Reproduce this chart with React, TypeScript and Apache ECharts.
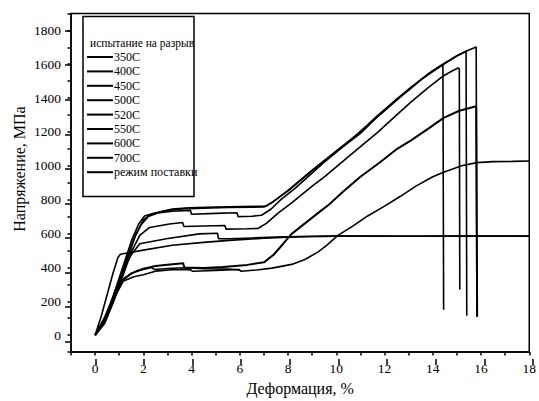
import React, { useEffect, useRef } from "react";
import * as echarts from "echarts";

const FONT = "Liberation Serif, DejaVu Serif, serif";

const legendTitle = "испытание на разрыв";
const seriesNames = ["350C", "400C", "450C", "500C", "520C", "550C", "600C", "700C", "режим поставки"];
const xAxisName = "Деформация, %";
const yAxisName = "Напряжение, МПа";

const s350: [number, number][] = [
  [0, 0], [0.3, 55], [0.6, 165], [0.9, 295], [1.2, 425], [1.5, 555], [1.8, 655], [2.05, 704], [2.4, 718],
  [3.2, 745], [3.9, 752], [5, 757], [6, 760], [7.1, 762], [7.4, 790], [8, 855], [9, 975], [10, 1088],
  [11, 1200], [11.7, 1295], [12.54, 1398], [13.1, 1465], [14, 1562], [14.45, 1603], [15, 1650],
  [15.4, 1678], [15.8, 1702], [15.83, 108],
];
const s400: [number, number][] = [
  [0, 0], [0.35, 70], [0.7, 200], [1.0, 320], [1.3, 450], [1.6, 565], [1.9, 650], [2.2, 700], [2.6, 722],
  [3.2, 732], [3.95, 737], [4.0, 714], [5, 719], [5.88, 723], [5.93, 700], [6.5, 702], [6.9, 708],
  [7.3, 745], [7.7, 800], [8.3, 868], [9.5, 1022], [10.5, 1140], [11.7, 1292], [12.54, 1395],
  [13.5, 1508], [14.45, 1600], [15, 1648], [15.38, 1676], [15.41, 114],
];
const s450: [number, number][] = [
  [0, 0], [0.4, 75], [0.8, 220], [1.1, 345], [1.4, 475], [1.7, 600], [2.0, 680], [2.3, 712], [2.9, 735],
  [3.6, 746], [4.5, 750], [5.5, 754], [6.5, 756], [7.0, 757], [7.35, 785], [8, 852], [9, 972],
  [10, 1082], [11, 1192], [11.7, 1288], [12.54, 1392], [13.1, 1458], [13.8, 1542], [14.42, 1597],
  [14.45, 150],
];
const s500: [number, number][] = [
  [0, 0], [0.4, 70], [0.8, 210], [1.2, 370], [1.5, 490], [1.85, 589], [2.26, 636], [3.08, 656],
  [3.63, 665], [3.68, 642], [4.5, 645], [5.38, 648], [5.43, 626], [6.3, 628], [6.75, 630], [7.1, 660],
  [7.6, 722], [8.15, 781], [9.0, 880], [9.52, 936], [10.48, 1051], [11.7, 1196], [12.54, 1305],
  [13.08, 1375], [13.8, 1460], [14.45, 1532], [14.8, 1560], [15.05, 1578], [15.1, 1572], [15.12, 270],
];
const s520: [number, number][] = [
  [0, 0], [0.4, 100], [0.8, 250], [1.2, 395], [1.5, 475], [1.85, 540], [2.95, 569], [4.32, 598],
  [5.07, 602], [5.12, 569], [5.55, 569], [6.5, 574], [7.5, 579], [8.5, 583], [10, 585], [12, 584],
  [14, 586], [16, 585], [18, 585],
];
const s550: [number, number][] = [
  [0, 0], [0.4, 105], [0.8, 235], [1.1, 320], [1.5, 365], [2, 392], [2.5, 408], [3, 416], [3.65, 424],
  [3.7, 400], [4.5, 396], [5.3, 403], [6.3, 415], [7.0, 430], [7.4, 475], [7.8, 540], [8.15, 598],
  [8.7, 660], [9.25, 722], [9.7, 772], [10.3, 850], [11, 935], [11.8, 1020], [12.54, 1102],
  [13.1, 1150], [13.8, 1218], [14.45, 1283], [15.1, 1325], [15.8, 1352], [15.84, 110],
];
const s600: [number, number][] = [
  [0, 0], [0.45, 110], [0.9, 250], [1.23, 340], [1.7, 378], [2.33, 400], [2.45, 388], [3, 394],
  [3.7, 398], [4.5, 392], [5.5, 390], [6, 386],
];
const s700: [number, number][] = [
  [0, 0], [0.4, 100], [0.8, 225], [1.16, 318], [1.6, 345], [2, 357], [2.5, 378], [3.3, 388],
  [3.95, 386], [4.05, 377], [5, 382], [5.96, 388], [6.05, 377], [6.7, 385], [7.33, 396], [8.15, 418],
  [8.7, 447], [9.25, 492], [9.6, 530], [10.07, 589], [10.7, 645], [11.3, 704], [12, 762],
  [12.66, 820], [13.3, 880], [14, 935], [14.45, 962], [15.2, 1000], [15.82, 1019], [16.5, 1025],
  [17.3, 1026], [18, 1028],
];
const sDelivery: [number, number][] = [
  [0, 0], [0.25, 110], [0.5, 240], [0.75, 370], [0.95, 460], [1.05, 478], [1.5, 490], [2, 502],
  [3.2, 531], [4.5, 548], [5.55, 560], [7, 572], [8, 579], [9, 583], [10, 585], [12, 585], [14, 584],
  [16, 586], [18, 584],
];

const seriesData = [s350, s400, s450, s500, s520, s550, s600, s700, sDelivery];
const seriesWidths = [1.6, 1.6, 1.6, 1.6, 1.6, 2.0, 1.6, 1.6, 1.6];

const X_MIN = -1, X_MAX = 18, Y_MIN = -100, Y_MAX = 1900;

export default function App() {
  const ref = useRef<HTMLDivElement>(null);
  useEffect(() => {
    if (!ref.current) return;
    const chart = echarts.init(ref.current, undefined, { renderer: "svg" });
    const L = 71, R = 6, T = 13.4, B = 42;
    const pxPerX = (539 - L - R) / (X_MAX - X_MIN);
    const pxPerY = (401 - T - B) / (Y_MAX - Y_MIN);
    const axisLineStyle = { color: "#000", width: 1.5 };
    const labelStyle = { fontFamily: FONT, fontSize: 13.5, color: "#000" };
    const option: any = {
      animation: false,
      backgroundColor: "#fff",
      textStyle: { fontFamily: FONT },
      grid: [
        { left: L, right: R, top: T, bottom: B, show: true, borderColor: "#000", borderWidth: 1.5, backgroundColor: "transparent" },
        { left: L + pxPerX, right: R, top: T, bottom: B },
        { left: L, right: R, top: T + 100 * pxPerY, bottom: B + 100 * pxPerY },
      ],
      xAxis: [
        {
          gridIndex: 0, type: "value", min: X_MIN, max: X_MAX, interval: 1,
          axisLine: { show: true, onZero: false, lineStyle: axisLineStyle },
          axisTick: { show: true, inside: false, length: 3.5, lineStyle: axisLineStyle },
          axisLabel: {
            ...labelStyle, margin: 9, showMinLabel: true, showMaxLabel: true,
            formatter: (v: number) => (v >= 0 && v % 2 === 0 ? String(v) : ""),
          },
          splitLine: { show: false },
          name: xAxisName, nameLocation: "middle", nameGap: 22,
          nameTextStyle: { fontFamily: FONT, fontSize: 16, color: "#000" },
        },
        {
          gridIndex: 1, type: "value", min: 0, max: 18, interval: 2,
          axisLine: { show: false, onZero: false },
          axisTick: { show: true, inside: false, length: 6, lineStyle: axisLineStyle },
          axisLabel: { show: false }, splitLine: { show: false },
        },
        { gridIndex: 2, type: "value", min: X_MIN, max: X_MAX, show: false },
      ],
      yAxis: [
        {
          gridIndex: 0, type: "value", min: Y_MIN, max: Y_MAX, interval: 100,
          axisLine: { show: true, onZero: false, lineStyle: axisLineStyle },
          axisTick: { show: true, inside: false, length: 3.5, lineStyle: axisLineStyle },
          axisLabel: {
            ...labelStyle, margin: 10,
            formatter: (v: number) => (v >= 0 && v <= 1800 && v % 200 === 0 ? String(v) : ""),
          },
          splitLine: { show: false },
        },
        { gridIndex: 1, type: "value", min: Y_MIN, max: Y_MAX, show: false },
        {
          gridIndex: 2, type: "value", min: 0, max: 1800, interval: 200,
          axisLine: { show: false, onZero: false },
          axisTick: { show: true, inside: false, length: 6, lineStyle: axisLineStyle },
          axisLabel: { show: false }, splitLine: { show: false },
        },
      ],
      legend: {
        data: seriesNames,
        orient: "vertical",
        left: 86,
        top: 51,
        padding: 0,
        itemWidth: 26,
        itemHeight: 12,
        itemGap: 2.4,
        itemStyle: { color: "transparent", borderColor: "transparent", borderWidth: 0, opacity: 0 },
        lineStyle: { color: "#000", width: 2 },
        textStyle: { fontFamily: FONT, fontSize: 12, color: "#000", lineHeight: 12, padding: [0, 0, 0, -4] },
        selectedMode: false,
      },
      graphic: [
        {
          type: "rect", z: 100,
          shape: { x: 83, y: 16.5, width: 111, height: 180 },
          style: { fill: "transparent", stroke: "#000", lineWidth: 1.5 },
        },
        {
          type: "text", z: 100, x: 90, y: 43,
          style: { text: legendTitle, fontFamily: FONT, fontSize: 11.5, fill: "#000", align: "left", verticalAlign: "middle" },
        },
        {
          type: "text", z: 100, x: 19, y: 169, rotation: Math.PI / 2,
          style: { text: yAxisName, fontFamily: FONT, fontSize: 16, fill: "#000", align: "center", verticalAlign: "middle" },
        },
      ],
      series: seriesData.map((d, i) => ({
        name: seriesNames[i],
        type: "line",
        xAxisIndex: 0,
        yAxisIndex: 0,
        data: d,
        showSymbol: false,
        symbol: "none",
        clip: true,
        silent: true,
        lineStyle: { color: "#000", width: seriesWidths[i] },
        itemStyle: { color: "#000" },
      })),
    };
    chart.setOption(option);
    return () => chart.dispose();
  }, []);
  return <div ref={ref} style={{ position: "absolute", left: 0, top: 0, width: 539, height: 401 }} />;
}
